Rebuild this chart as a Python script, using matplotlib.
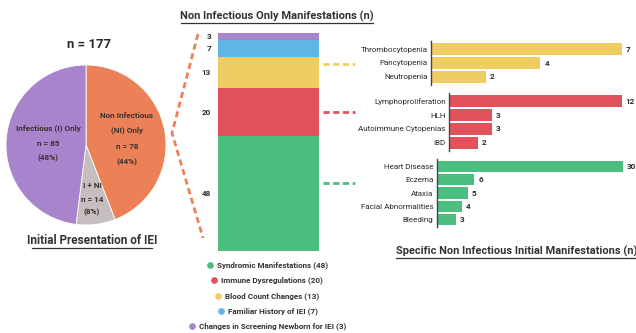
import matplotlib
matplotlib.use("Agg")

import matplotlib.pyplot as plt

plt.rcParams['font.family'] = ['Roboto', 'DejaVu Sans']

# Initial presentation (pie)
pie_labels = ["Non Infectious\n(NI) Only", "I + NI", "Infectious (I) Only"]
pie_values = [78, 14, 85]
pie_colors = ["#ec8158", "#c6bebe", "#a884cc"]

# Non infectious only manifestations (stacked bar, bottom to top)
stack_names = ["Syndromic Manifestations", "Immune Dysregulations",
               "Blood Count Changes", "Familiar History of IEI",
               "Changes in Screening Newborn for IEI"]
stack_values = [48, 20, 13, 7, 3]
stack_colors = ["#4cbf80", "#e0535a", "#f0cd63", "#5db6e6", "#a884cc"]

# Specific manifestations per group
blood_labels = ["Thrombocytopenia", "Pancytopenia", "Neutropenia"]
blood_values = [7, 4, 2]
immune_labels = ["Lymphoproliferation", "HLH", "Autoimmune Cytopenias", "IBD"]
immune_values = [12, 3, 3, 2]
synd_labels = ["Heart Disease", "Eczema", "Ataxia", "Facial Abnormalities", "Bleeding"]
synd_values = [30, 6, 5, 4, 3]

W, H = 636, 333
fig = plt.figure(figsize=(W / 100, H / 100), dpi=100)
fig.patch.set_facecolor("white")
TXT = "#2b2b2b"
HEAD = "#333333"


def box(x0, y0, x1, y1):
    # pixel box (top-left origin) -> figure fraction rect
    return [x0 / W, 1 - y1 / H, (x1 - x0) / W, (y1 - y0) / H]


def ftext(x, y, s, **kw):
    kw.setdefault("color", TXT)
    return fig.text(x / W, 1 - y / H, s, **kw)


def underline(x0, x1, y):
    fig.add_artist(plt.Line2D([x0 / W, x1 / W], [1 - y / H, 1 - y / H],
                              color=HEAD, lw=0.9))


# ---- pie ----
total = sum(pie_values)
ax_pie = fig.add_axes(box(6, 65, 166, 225))
ax_pie.pie(pie_values, colors=pie_colors, startangle=90, counterclock=False,
           wedgeprops=dict(linewidth=0.6, edgecolor="white"))
ax_pie.set_xlim(-1, 1)
ax_pie.set_ylim(-1, 1)
ax_pie.set_aspect("equal")
ax_pie.axis("off")

ftext(89, 45, f"n = {total}", ha="center", va="center", fontsize=9.5, fontweight="bold")
ftext(92, 241, "Initial Presentation of IEI", ha="center", va="center",
      fontsize=8.5, fontweight="bold", color=HEAD)
underline(32, 152, 248)

pie_pos = [(127, [115, 130, 147, 162]), (92, [186, 199, 212]), (48, [128, 143, 158])]
for lab, v, (px, ys) in zip(pie_labels, pie_values, pie_pos):
    lines = lab.split("\n") + [f"n = {v}", f"({round(v / total * 100)}%)"]
    for line, y in zip(lines, ys):
        ftext(px, y, line, ha="center", va="center", fontsize=5.9,
              fontweight="bold", color="#3a3030")

# ---- stacked bar ----
ax_st = fig.add_axes(box(218, 33, 319, 251))
bottom = 0
for v, c in zip(stack_values, stack_colors):
    ax_st.bar(0.5, v, width=1, bottom=bottom, color=c, edgecolor="none")
    ax_st.text(-0.07, bottom + v / 2, str(v), ha="right", va="center",
               fontsize=5.9, fontweight="bold", color=TXT)
    bottom += v
ax_st.set_xlim(0, 1)
ax_st.set_ylim(0, bottom)
ax_st.axis("off")

ftext(277, 16, "Non Infectious Only Manifestations (n)", ha="center", va="center",
      fontsize=8, fontweight="bold", color=HEAD)
underline(181, 373, 23)

# legend under the stacked bar, one centred row each
leg_pos = [(210, 265), (214, 280), (218, 296), (221, 311), (192, 326)]
for name, v, c, (mx, my) in zip(stack_names, stack_values, stack_colors, leg_pos):
    fig.add_artist(plt.Line2D([mx / W], [1 - my / H], marker="o", markersize=3.8,
                              color=c, linestyle="none"))
    ftext(mx + 7, my, f"{name} ({v})", ha="left", va="center", fontsize=5.8,
          fontweight="bold", color=HEAD)

# ---- overlay for connectors ----
ov = fig.add_axes([0, 0, 1, 1], zorder=5)
ov.set_xlim(0, W)
ov.set_ylim(H, 0)
ov.axis("off")
ov.patch.set_alpha(0)
ov.plot([198, 172, 203], [34, 133, 238], color="#ec8158", lw=2,
        dashes=(2.2, 1.4))
for y, c in [(64, stack_colors[2]), (112, stack_colors[1]), (183, stack_colors[0])]:
    ov.plot([323, 355], [y, y], color=c, lw=2, dashes=(2.2, 1.3))


# ---- horizontal bar groups ----
def hbars(rect, labels, values, color):
    ax = fig.add_axes(box(*rect))
    ys = range(len(values))
    ax.barh(ys, values, height=0.86, color=color)
    for y, v in zip(ys, values):
        ax.text(v + max(values) * 0.022, y, str(v), va="center", ha="left",
                fontsize=5.9, fontweight="bold", color=TXT)
    ax.set_yticks(list(ys))
    ax.set_yticklabels(labels, fontsize=5.8, color=TXT)
    ax.tick_params(axis="y", length=0, pad=2.5)
    ax.set_xticks([])
    ax.set_xlim(0, max(values))
    ax.set_ylim(len(values) - 0.42, -0.58)
    for s in ["top", "right", "bottom"]:
        ax.spines[s].set_visible(False)
    ax.spines["left"].set_color("#444444")
    ax.spines["left"].set_linewidth(1)
    ax.patch.set_alpha(0)
    return ax


hbars((431, 41, 622, 85), blood_labels, blood_values, stack_colors[2])
hbars((449, 93, 622, 151), immune_labels, immune_values, stack_colors[1])
hbars((437, 159, 623, 227), synd_labels, synd_values, stack_colors[0])

ftext(396, 251, "Specific Non Infectious Initial Manifestations (n)", ha="left",
      va="center", fontsize=7.9, fontweight="bold", color=HEAD)
underline(396, 635, 258)

fig.savefig("out.png", dpi=100, facecolor="white")
